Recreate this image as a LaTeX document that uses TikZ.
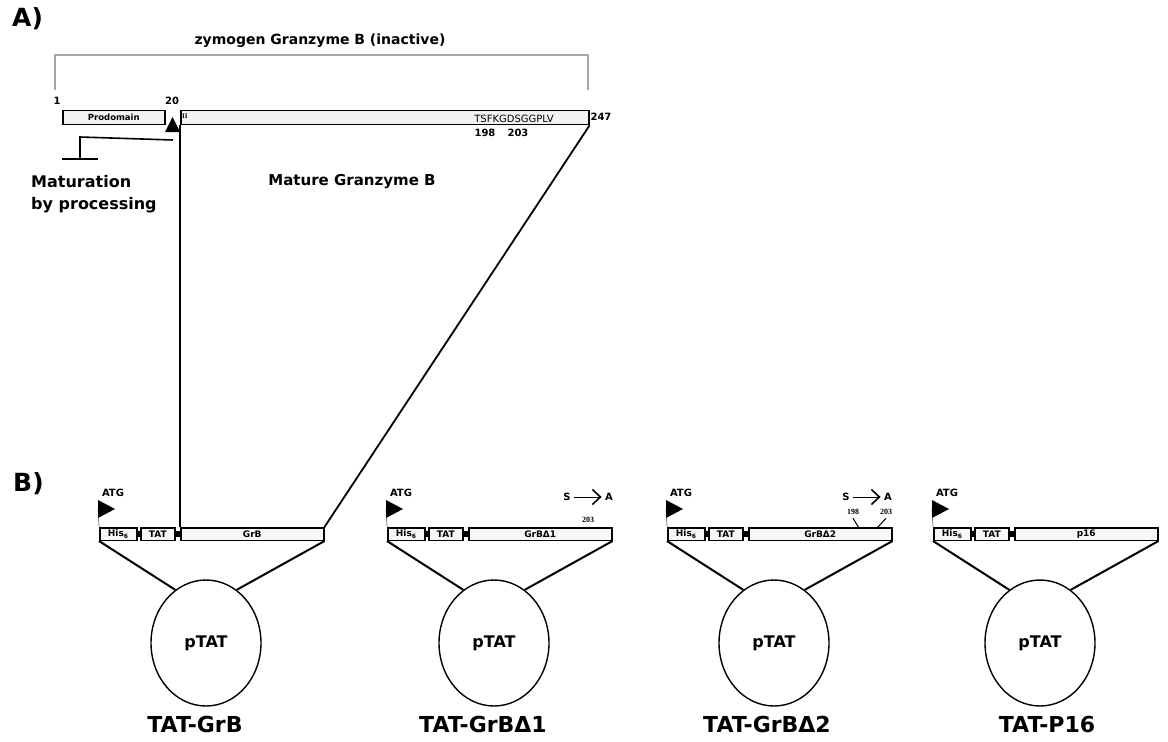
\documentclass[tikz,border=0pt]{standalone}
\usepackage{fontspec}
\setmainfont{DejaVu Sans}
\newfontfamily\numfont{Liberation Serif}
\usetikzlibrary{shapes.geometric,arrows.meta}
\tikzset{
  bar/.style={draw, line width=1.6pt, fill=gray!10, minimum height=14pt, inner sep=0pt, anchor=west},
  cbox/.style={draw, line width=1.5pt, fill=gray!6, minimum height=12.5pt, inner sep=0pt, anchor=west, font=\bfseries\fontsize{9}{9}\selectfont},
  plasmid/.style={draw, ellipse, line width=1.4pt, minimum width=110pt, minimum height=126pt, inner sep=0pt, font=\bfseries\fontsize{16}{16}\selectfont},
  link/.style={line width=2pt},
  joint/.style={line width=5.5pt},
  big/.style={font=\bfseries\fontsize{22}{22}\selectfont},
  huge/.style={font=\bfseries\fontsize{25}{25}\selectfont},
  mid/.style={font=\bfseries\fontsize{16}{16}\selectfont},
  small/.style={font=\bfseries\fontsize{10}{10}\selectfont},
  tiny/.style={font=\numfont\bfseries\fontsize{8}{8}\selectfont},
}
\begin{document}
\begin{tikzpicture}[x=1pt,y=-1pt]
\useasboundingbox[fill=white] (0,0) rectangle (1168,742);

% ---------- Panel A ----------
\node[huge, anchor=west, inner sep=0pt] (A) at (12,19) {A)};
\node[font=\bfseries\fontsize{14}{14}\selectfont] (zym) at (320,41) {zymogen Granzyme B (inactive)};
\coordinate (brL) at (55,90);
\coordinate (brR) at (588,90);
\draw[gray!70, line width=1.3pt] (brL) -- (55,55) -- (588,55) -- (brR);

\node[bar, minimum width=102pt, font=\bfseries\fontsize{8.5}{8.5}\selectfont] (prod) at (62,117.5) {Prodomain};
\node[bar, minimum width=408pt] (mat) at (180,117.5) {};
\node[anchor=west, font=\numfont\bfseries\fontsize{7}{7}\selectfont, inner sep=0pt] (ii) at (182,116) {II};
\node[font=\fontsize{10}{10}\selectfont, inner sep=0pt] (seq) at (514,118.5) {TSFKGDSGGPLV};
\node[small] (n1) at (57,101) {1};
\node[small] (n20) at (172,101) {20};
\node[small] (n247) at (601,117) {247};
\node[small] (n198) at (485,133) {198};
\node[small] (n203) at (518,133) {203};

% cleavage marker
\fill (165,132) -- (172.5,117) -- (180,132) -- cycle;
\coordinate (cut) at (173,140);
\coordinate (tbar) at (80,159);
\draw[line width=1.6pt] (cut) -- (80,137) -- (tbar);
\draw[line width=1.6pt] (62,159) -- (98,159);
\node[mid, anchor=west, inner sep=0pt] (matur) at (31,182) {Maturation};
\node[mid, anchor=west, inner sep=0pt] (byproc) at (31,205) {by processing};
\node[font=\bfseries\fontsize{15}{15}\selectfont] (mgb) at (352,182) {Mature Granzyme B};

% ---------- Panel B ----------
\node[huge, anchor=west, inner sep=0pt] (B) at (13,484) {B)};

\foreach \i/\x/\lab/\name/\lx in {1/99/GrB/TAT-GrB/195, 2/387/GrBΔ1/TAT-GrBΔ1/483, 3/667/GrBΔ2/TAT-GrBΔ2/767, 4/933/p16/TAT-P16/1047}{
  \node[cbox, minimum width=37pt] (his\i) at (\x,534) {His\textsubscript{6}};
  \node[cbox, minimum width=34pt] (tat\i) at (\x+41,534) {TAT};
  \node[cbox, minimum width=143pt] (g\i) at (\x+81,534) {\lab};
  \draw[joint] (his\i.east) -- (tat\i.west);
  \draw[joint] (tat\i.east) -- (g\i.west);
  \node[plasmid] (p\i) at (\x+107,643) {pTAT};
  \draw[link] (his\i.south west) -- (p\i.120);
  \draw[link] (g\i.south east) -- (p\i.60);
  \node[big] (lab\i) at (\lx,724) {\name};
  \coordinate (pr\i) at (\x-1,509);
  \draw[line width=0.8pt, gray] (his\i.north west) -- (pr\i);
  \fill (\x-1,500) -- (\x+16,509) -- (\x-1,518) -- cycle;
  \node[small] (atg\i) at (\x+14,493) {ATG};
}

% joining panel A and B
\draw[line width=1.8pt] (mat.south west) -- (g1.north west);
\draw[line width=1.8pt] (mat.south east) -- (g1.north east);

% mutation annotations
\node[small] (s2) at (567,497) {S};
\node[small] (a2) at (609,497) {A};
\draw[line width=1pt, -{Straight Barb[length=8pt,width=15pt,line width=1.6pt]}] (s2.east) -- (a2.west);
\node[tiny] (m203b) at (588,520) {203};

\node[small] (s3) at (846,497) {S};
\node[small] (a3) at (888,497) {A};
\draw[line width=1pt, -{Straight Barb[length=8pt,width=15pt,line width=1.6pt]}] (s3.east) -- (a3.west);
\node[tiny] (m198c) at (853,512) {198};
\node[tiny] (m203c) at (886,512) {203};
\draw[line width=1pt] (m198c.south) -- (859,528);
\draw[line width=1pt] (m203c.south) -- (877,528);
\end{tikzpicture}
\end{document}
